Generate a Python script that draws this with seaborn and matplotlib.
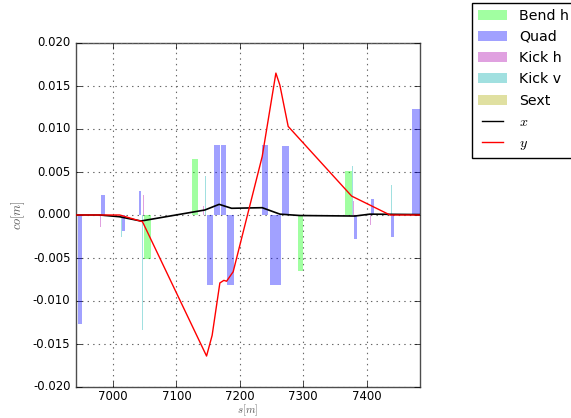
import matplotlib
matplotlib.use("Agg")
import matplotlib.pyplot as plt
from matplotlib.patches import Patch
from matplotlib.lines import Line2D
import seaborn as sns
import pandas as pd

plt.style.use("classic")
plt.rcParams["figure.facecolor"] = "white"
plt.rcParams["savefig.facecolor"] = "white"
plt.rcParams["font.family"] = ["DejaVu Sans"]
plt.rcParams["mathtext.fontset"] = "cm"

# Lattice elements: start position [m], length [m], strength (drawn as bar height)
bend_s = [6925.0, 7048.5, 7124.7, 7291.2, 7365.9, 7484.0]
bend_len = [17.0, 12.1, 9.5, 8.8, 10.5, 15.0]
bend_val = [0.0134, -0.0051, 0.0065, -0.0065, 0.0051, 0.0134]

quad_s = [6944.3, 6981.7, 7014.2, 7040.6, 7147.5, 7160.0, 7169.6, 7179.0,
          7234.8, 7247.4, 7266.9, 7380.0, 7406.4, 7438.0, 7472.0]
quad_len = [7.4, 5.2, 4.3, 4.2, 9.5, 8.5, 8.4, 11.6,
            9.9, 17.4, 10.5, 5.3, 5.2, 5.2, 12.0]
quad_val = [-0.0127, 0.0023, -0.0019, 0.0028, -0.0081, 0.0081, 0.0081, -0.0081,
            0.0081, -0.0081, 0.0080, -0.0028, 0.0019, -0.0025, 0.0123]

kickh_s = [6980.0, 7046.8, 7142.6, 7280.0, 7378.4, 7404.9]
kickh_val = [-0.0014, 0.0023, 0.0010, 0.0010, 0.0016, -0.0012]

kickv_s = [7012.7, 7045.8, 7144.7, 7278.4, 7376.8, 7437.9]
kickv_val = [-0.0026, -0.0134, 0.0045, -0.0045, 0.0057, 0.0035]
kick_len = 1.5

# Closed orbit, horizontal (x) and vertical (y)
orbit_x_s = [6941, 6979, 7010, 7044, 7144.8, 7167.4, 7187, 7235.3, 7263.2,
             7294.8, 7381.6, 7405.4, 7484]
orbit_x = [0.0, 0.0, -0.0002, -0.0007, 0.00058, 0.00124, 0.00078, 0.00085,
           0.0001, -0.00006, -0.00012, 0.0001, 0.00005]

orbit_y_s = [6941, 7010.5, 7046.4, 7147.5, 7156.3, 7168.5, 7174.8, 7179.1,
             7189.5, 7235.3, 7256.9, 7263.2, 7270, 7276.3, 7376.4, 7437, 7484]
orbit_y = [0.0, 0.0, -0.00078, -0.0164, -0.0140, -0.0079, -0.0076, -0.0077,
           -0.0066, 0.0068, 0.0165, 0.0151, 0.0126, 0.0103, 0.0022, 0.0, 0.0]

colors = {
    "Bend h": "#00ff00",
    "Quad": "#0000ff",
    "Kick h": "#ab00ab",
    "Kick v": "#00abab",
    "Sext": "#abab00",
}
alpha = 0.37

fig = plt.figure(figsize=(5.71, 4.18), dpi=100)
ax = fig.add_axes([76 / 571, 1 - 387 / 418, 344 / 571, 344 / 418])

def draw_elements(starts, lengths, values, color):
    if not hasattr(lengths, "__len__"):
        lengths = [lengths] * len(starts)
    ax.bar(starts, values, width=lengths, align="edge", color=color,
           alpha=alpha, linewidth=0, zorder=3)

draw_elements(bend_s, bend_len, bend_val, colors["Bend h"])
draw_elements(quad_s, quad_len, quad_val, colors["Quad"])
draw_elements(kickh_s, kick_len, kickh_val, colors["Kick h"])
draw_elements(kickv_s, kick_len, kickv_val, colors["Kick v"])

df_x = pd.DataFrame({"s": orbit_x_s, "co": orbit_x})
df_y = pd.DataFrame({"s": orbit_y_s, "co": orbit_y})
sns.lineplot(data=df_x, x="s", y="co", ax=ax, color="k", linewidth=1.2,
             legend=False, zorder=4)
sns.lineplot(data=df_y, x="s", y="co", ax=ax, color="r", linewidth=1.0,
             legend=False, zorder=5)

ax.set_xlim(6941.5, 7484.3)
ax.set_ylim(-0.020, 0.020)
ax.set_yticks([-0.020, -0.015, -0.010, -0.005, 0.0, 0.005, 0.010, 0.015, 0.020])
ax.set_xticks([7000, 7100, 7200, 7300, 7400])
ax.yaxis.set_major_formatter(matplotlib.ticker.FormatStrFormatter("%.3f"))
ax.tick_params(labelsize=8.4)
ax.tick_params(axis="x", pad=2.5)
ax.grid(True, linestyle=":", color="0.4", linewidth=0.8)
for sp in ax.spines.values():
    sp.set_color("0.3")
ax.set_xlabel("$s[m]$", fontsize=7.8, color="0.35", va="top")
ax.xaxis.set_label_coords(0.5, -0.0465)
ax.set_ylabel("$co[m]$", fontsize=9, color="0.35", labelpad=4)

handles = [Patch(facecolor=colors[k], alpha=alpha, edgecolor="none", label=k)
           for k in ["Bend h", "Quad", "Kick h", "Kick v", "Sext"]]
handles += [Line2D([], [], color="k", lw=1.0, label="$x$"),
            Line2D([], [], color="r", lw=1.0, label="$y$")]
leg = fig.legend(handles=handles, loc="upper left",
                 bbox_to_anchor=(472 / 571, 1 - 3 / 418),
                 bbox_transform=fig.transFigure, borderaxespad=0,
                 fontsize=10.2, fancybox=False, framealpha=1,
                 labelspacing=0.51, handlelength=2.1, handletextpad=0.8)
leg.get_frame().set_edgecolor("k")

fig.savefig("out.png", dpi=100)
